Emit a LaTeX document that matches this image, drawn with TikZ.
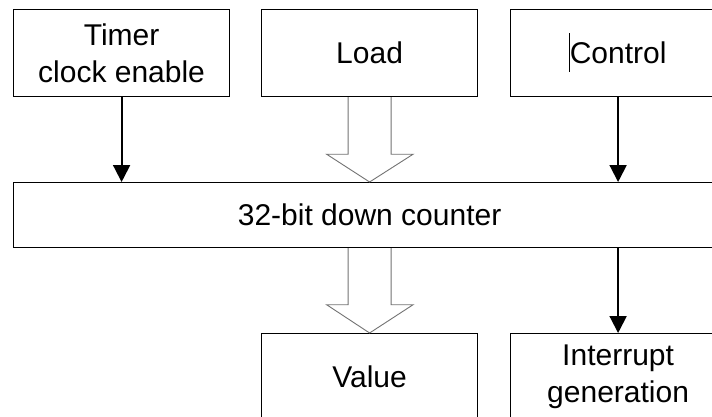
\documentclass[tikz,border=0pt]{standalone}
\usepackage{fontspec}
\setmainfont{Liberation Sans}
\usetikzlibrary{arrows.meta,calc}
\begin{document}
\begin{tikzpicture}[x=1pt,y=-1pt,
  blk/.style={draw=black, line width=1.2pt, minimum width=216pt, minimum height=87pt,
    inner sep=0pt, align=center, anchor=north west,
    font=\fontsize{30}{37}\selectfont},
  sig/.style={line width=2pt, -{Triangle[length=17pt,width=17pt]}},
  hollow/.style={draw=black!55, line width=0.9pt, fill=white, line join=miter}]
\useasboundingbox (0,0) rectangle (712,416);
\clip (0,0) rectangle (712,416);
\node[blk] (timer) at (13,9) {Timer\\clock enable};
\node[blk] (load) at (261,9) {Load};
\node[blk] (control) at (509.5,9) {Control};
\node[blk, minimum width=712pt, minimum height=65pt] (counter) at (13,182) {32-bit down counter};
\node[blk] (value) at (261,333) {Value};
\node[blk] (intr) at (509.5,333) {Interrupt\\generation};
% thin signal arrows
\draw[sig] (timer.south) -- (timer.south |- counter.north);
\draw[sig] (control.south) -- (control.south |- counter.north);
\draw[sig] (intr.north |- counter.south) -- (intr.north);
% hollow bus arrows
\draw[hollow] ($(load.south)+(-21.5,0)$) -- ++(0,57) -- ++(-21.5,0)
  -- (load.south |- counter.north) -- ($(load.south)+(43.5,57)$)
  -- ++(-22,0) -- ($(load.south)+(21.5,0)$);
\draw[hollow] ($(counter.south -| load.south)+(-21.5,0)$) -- ++(0,56.5) -- ++(-21.5,0)
  -- (value.north) -- ($(counter.south -| load.south)+(43.5,56.5)$)
  -- ++(-22,0) -- ($(counter.south -| load.south)+(21.5,0)$);
% text cursor mark
\coordinate (cur) at (569.5,33);
\draw[line width=0.8pt] (cur) -- ++(0,39);
\end{tikzpicture}
\end{document}
